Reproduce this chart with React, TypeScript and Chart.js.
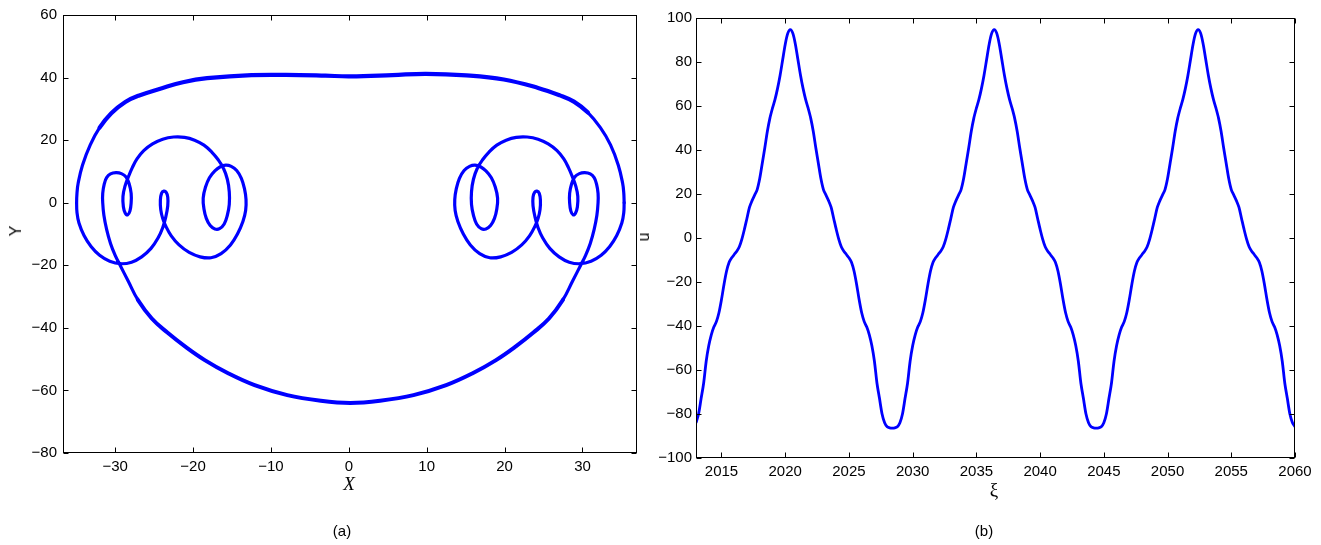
import React, { useEffect, useRef } from "react";
import { Chart, registerables } from "chart.js";

Chart.register(...registerables);

// ---------- Panel (a): phase portrait ----------
const PHASE_X_TICKS = [-30, -20, -10, 0, 10, 20, 30];
const PHASE_Y_TICKS = [-80, -60, -40, -20, 0, 20, 40, 60];

// top arc, from the right extreme over the top to the left extreme
const TOP_ARC: [number, number][] = [
  [35.35, 0], [35.3, 3.2], [35.15, 6.3], [34.6, 12.0], [33.6, 18.5], [32.3, 24.0], [30.7, 28.8],
  [28.9, 32.3], [27.1, 34.3], [24.3, 36.7], [19.9, 39.4], [15.1, 40.7], [9.9, 41.2],
  [5.6, 40.8], [0.2, 40.4], [-3.0, 40.6], [-6.3, 40.8], [-12.5, 40.8], [-18.2, 39.8],
  [-21.3, 38.5], [-24.0, 36.6], [-27.0, 34.2], [-28.7, 32.2], [-30.5, 28.6], [-32.0, 24.0],
  [-33.2, 18.5], [-34.2, 12.0], [-34.75, 6.3], [-34.9, 3.2], [-34.95, 0],
];

// loops on the left side
const LEFT_LOOPS: [number, number][] = [
  [-34.9, -3.2], [-34.65, -6.5], [-34.0, -10.5], [-33.1, -14.0], [-32.0, -16.8], [-30.7, -18.7], [-29.3, -19.5],
  [-27.9, -19.0], [-26.6, -17.3], [-25.4, -14.6], [-24.5, -11.3], [-23.9, -8.0], [-23.5, -4.5],
  [-23.25, -1.0], [-23.25, 1.8], [-23.45, 3.3], [-23.75, 3.7], [-24.05, 3.0], [-24.2, 0.8],
  [-24.15, -2.2], [-23.9, -5.0], [-23.5, -7.5], [-22.8, -10.6], [-21.8, -13.5], [-20.5, -15.9],
  [-19.1, -17.3], [-17.7, -17.6], [-16.4, -16.3], [-15.2, -13.5], [-14.3, -10.0], [-13.6, -6.0],
  [-13.25, -2.5], [-13.2, 1.0], [-13.4, 4.5], [-13.8, 7.8], [-14.4, 10.3], [-15.1, 11.6],
  [-15.8, 12.0], [-16.5, 11.5], [-17.2, 10.2], [-17.9, 8.0], [-18.4, 5.0], [-18.7, 1.5],
  [-18.6, -2.0], [-18.3, -5.0], [-17.8, -7.3], [-17.2, -8.4], [-16.6, -8.3], [-16.0, -6.8],
  [-15.6, -4.0], [-15.35, -0.5], [-15.35, 3.5], [-15.6, 7.5], [-16.1, 11.0], [-16.8, 13.8],
  [-17.6, 16.2], [-18.6, 18.4], [-19.8, 20.0], [-21.1, 20.9], [-22.5, 21.0], [-23.9, 20.3],
  [-25.2, 18.8], [-26.3, 16.7], [-27.2, 14.0], [-27.8, 11.2], [-28.3, 8.3], [-28.75, 5.2],
  [-29.0, 2.0], [-28.95, -1.3], [-28.7, -3.4], [-28.4, -3.9], [-28.1, -2.6], [-27.95, 0],
  [-27.95, 3.0], [-28.2, 6.0], [-28.6, 8.2], [-29.2, 9.3], [-29.9, 9.6], [-30.6, 9.2],
  [-31.1, 8.0], [-31.4, 6.0], [-31.6, 3.0], [-31.6, 0], [-31.45, -4.0], [-31.1, -8.5],
  [-30.6, -13.0], [-30.0, -16.8], [-29.4, -19.8],
];

// bottom arc, left to right
const BOTTOM_ARC: [number, number][] = [
  [-28.3, -25.2], [-27.1, -31.0], [-25.3, -37.0], [-23.3, -41.5], [-21.0, -46.0], [-18.5, -50.3],
  [-15.5, -54.5], [-12.1, -58.3], [-7.9, -61.5], [-3.6, -63.3], [0.2, -64.0], [4.0, -63.3],
  [8.3, -61.5], [12.5, -58.3], [15.9, -54.5], [18.9, -50.3], [21.4, -46.0], [23.7, -41.5],
  [25.7, -37.0], [27.5, -31.0], [28.7, -25.2],
];

// loops on the right side
const RIGHT_LOOPS: [number, number][] = [
  [29.8, -19.8], [30.4, -16.8], [31.0, -13.0], [31.5, -8.5], [31.85, -4.0], [32.0, 0],
  [32.0, 3.0], [31.8, 6.0], [31.5, 8.0], [31.0, 9.2], [30.3, 9.6], [29.6, 9.3],
  [29.0, 8.2], [28.6, 6.0], [28.35, 3.0], [28.35, 0], [28.5, -2.6], [28.8, -3.9],
  [29.1, -3.4], [29.35, -1.3], [29.4, 2.0], [29.15, 5.2], [28.7, 8.3], [28.2, 11.2],
  [27.6, 14.0], [26.7, 16.7], [25.6, 18.8], [24.3, 20.3], [22.9, 21.0], [21.5, 20.9],
  [20.2, 20.0], [19.0, 18.4], [18.0, 16.2], [17.2, 13.8], [16.5, 11.0], [16.0, 7.5],
  [15.75, 3.5], [15.75, -0.5], [16.0, -4.0], [16.4, -6.8], [17.0, -8.3], [17.6, -8.4],
  [18.2, -7.3], [18.7, -5.0], [19.0, -2.0], [19.1, 1.5], [18.8, 5.0], [18.3, 8.0],
  [17.6, 10.2], [16.9, 11.5], [16.2, 12.0], [15.5, 11.6], [14.8, 10.3], [14.2, 7.8],
  [13.8, 4.5], [13.6, 1.0], [13.65, -2.5], [14.0, -6.0], [14.7, -10.0], [15.6, -13.5],
  [16.8, -16.3], [18.1, -17.6], [19.5, -17.3], [20.9, -15.9], [22.2, -13.5], [23.2, -10.6],
  [23.9, -7.5], [24.3, -5.0], [24.55, -2.2], [24.6, 0.8], [24.45, 3.0], [24.15, 3.7],
  [23.85, 3.3], [23.65, 1.8], [23.65, -1.0], [23.9, -4.5], [24.3, -8.0], [24.9, -11.3],
  [25.8, -14.6], [27.0, -17.3], [28.3, -19.0], [29.7, -19.5], [31.1, -18.7], [32.4, -16.8],
  [33.5, -14.0], [34.4, -10.5], [35.05, -6.5], [35.3, -3.2],
];

// ---------- Panel (b): u(xi) ----------
const XI_TICKS = [2015, 2020, 2025, 2030, 2035, 2040, 2045, 2050, 2055, 2060];
const U_TICKS = [-100, -80, -60, -40, -20, 0, 20, 40, 60, 80, 100];
const XI_START = 2013;
const XI_STEP = 0.2;
const U_VALUES = [
  // 2013.0 - 2020.4
  -84.0, -80.0, -73.0, -66.0, -56.0, -49.0, -44.0, -40.5, -38.0, -34.0, -28.0, -21.0, -15.0, -11.0, -9.0, -7.5, -6.0, -4.0, -0.5,
  4.0, 9.0, 14.0, 17.0, 19.5, 22.0, 27.0, 34.0, 41.0, 48.5, 54.5, 59.0, 63.0, 68.0, 74.0, 81.0, 88.0, 93.0, 94.7,
  // 2020.6 - 2028.4
  93.0, 88.0, 81.0, 74.0, 68.0, 63.0, 59.0, 54.5, 48.5, 41.0, 34.0, 27.0, 22.0, 19.5, 17.0, 14.0, 9.0, 4.0, -0.5, -4.0,
  -6.0, -7.5, -9.0, -11.0, -15.0, -21.0, -28.0, -34.0, -38.0, -40.5, -44.0, -49.0, -56.0, -66.0, -73.0, -80.0, -84.0, -85.8, -86.3, -86.4,
  // 2028.6 - 2036.4
  -86.3, -85.8, -84.0, -80.0, -73.0, -66.0, -56.0, -49.0, -44.0, -40.5, -38.0, -34.0, -28.0, -21.0, -15.0, -11.0, -9.0, -7.5, -6.0, -4.0,
  -0.5, 4.0, 9.0, 14.0, 17.0, 19.5, 22.0, 27.0, 34.0, 41.0, 48.5, 54.5, 59.0, 63.0, 68.0, 74.0, 81.0, 88.0, 93.0, 94.7,
  // 2036.6 - 2044.4
  93.0, 88.0, 81.0, 74.0, 68.0, 63.0, 59.0, 54.5, 48.5, 41.0, 34.0, 27.0, 22.0, 19.5, 17.0, 14.0, 9.0, 4.0, -0.5, -4.0,
  -6.0, -7.5, -9.0, -11.0, -15.0, -21.0, -28.0, -34.0, -38.0, -40.5, -44.0, -49.0, -56.0, -66.0, -73.0, -80.0, -84.0, -85.8, -86.3, -86.4,
  // 2044.6 - 2052.4
  -86.3, -85.8, -84.0, -80.0, -73.0, -66.0, -56.0, -49.0, -44.0, -40.5, -38.0, -34.0, -28.0, -21.0, -15.0, -11.0, -9.0, -7.5, -6.0, -4.0,
  -0.5, 4.0, 9.0, 14.0, 17.0, 19.5, 22.0, 27.0, 34.0, 41.0, 48.5, 54.5, 59.0, 63.0, 68.0, 74.0, 81.0, 88.0, 93.0, 94.7,
  // 2052.6 - 2060.0
  93.0, 88.0, 81.0, 74.0, 68.0, 63.0, 59.0, 54.5, 48.5, 41.0, 34.0, 27.0, 22.0, 19.5, 17.0, 14.0, 9.0, 4.0, -0.5,
  -4.0, -6.0, -7.5, -9.0, -11.0, -15.0, -21.0, -28.0, -34.0, -38.0, -40.5, -44.0, -49.0, -56.0, -66.0, -73.0, -80.0, -84.0, -85.8,
];

const BLUE = "#0000ff";
const fmt = (v: number) => (v < 0 ? "\u2212" + Math.abs(v) : String(v));
const toPts = (arr: [number, number][]) => arr.map(([x, y]) => ({ x, y }));

const framePlugin = {
  id: "matlabFrame",
  afterDraw(chart: any) {
    const { ctx, chartArea: a, scales } = chart;
    const xs = scales.x;
    const ys = scales.y;
    const L = 5;
    const left = Math.round(a.left) + 0.5;
    const right = Math.round(a.right) - 0.5;
    const top = Math.round(a.top) + 0.5;
    const bottom = Math.round(a.bottom) - 0.5;
    ctx.save();
    ctx.strokeStyle = "#000";
    ctx.lineWidth = 1;
    ctx.beginPath();
    for (const t of xs.ticks) {
      const p = Math.round(xs.getPixelForValue(t.value)) + 0.5;
      ctx.moveTo(p, bottom);
      ctx.lineTo(p, bottom - L);
      ctx.moveTo(p, top);
      ctx.lineTo(p, top + L);
    }
    for (const t of ys.ticks) {
      const p = Math.round(ys.getPixelForValue(t.value)) + 0.5;
      ctx.moveTo(left, p);
      ctx.lineTo(left + L, p);
      ctx.moveTo(right, p);
      ctx.lineTo(right - L, p);
    }
    ctx.stroke();
    ctx.strokeRect(left, top, right - left, bottom - top);
    ctx.restore();
  },
};

function axis(min: number, max: number, ticks: number[], pad: number, fit: (s: any) => void) {
  return {
    type: "linear" as const,
    min,
    max,
    grid: { display: false, drawTicks: false },
    border: { display: false },
    ticks: {
      padding: pad,
      color: "#000",
      maxRotation: 0,
      autoSkip: false,
      callback: (v: any) => fmt(Number(v)),
    },
    afterBuildTicks: (s: any) => {
      s.ticks = ticks.map((v) => ({ value: v }));
    },
    afterFit: fit,
  };
}

const labelStyle = (
  left: number,
  top: number,
  size: number,
  extra: React.CSSProperties = {},
  rotate = false
): React.CSSProperties => ({
  position: "absolute",
  left,
  top,
  fontSize: size,
  lineHeight: 1,
  whiteSpace: "nowrap",
  color: "#000",
  fontFamily: '"Liberation Sans", Arial, sans-serif',
  transform: "translate(-50%, -50%)" + (rotate ? " rotate(-90deg)" : ""),
  ...extra,
});

export default function App() {
  const leftRef = useRef<HTMLCanvasElement>(null);
  const rightRef = useRef<HTMLCanvasElement>(null);

  useEffect(() => {
    Chart.defaults.font.family = '"Liberation Sans", Arial, sans-serif';
    Chart.defaults.font.size = 15;
    Chart.defaults.color = "#000";

    const path = [...TOP_ARC, ...LEFT_LOOPS, ...BOTTOM_ARC, ...RIGHT_LOOPS, TOP_ARC[0]];
    const topStart = 6;
    const topEnd = TOP_ARC.length - 6;
    const botStart = TOP_ARC.length + LEFT_LOOPS.length + 1;
    const botEnd = botStart + BOTTOM_ARC.length - 3;

    const left = new Chart(leftRef.current as HTMLCanvasElement, {
      type: "scatter",
      data: {
        datasets: [
          {
            data: toPts(path),
            showLine: true,
            borderColor: BLUE,
            borderWidth: 3.2,
            borderCapStyle: "round",
            borderJoinStyle: "round",
            pointRadius: 0,
            tension: 0.4,
            segment: {
              borderWidth: (c: any) => {
                const i = c.p0DataIndex;
                if (i >= topStart && i < topEnd) return 4.2;
                if (i >= botStart && i < botEnd) return 4.0;
                return 3.2;
              },
            },
          } as any,
        ],
      },
      options: {
        responsive: false,
        animation: false,
        events: [],
        layout: { padding: { left: 0, top: 15, right: 23, bottom: 0 } },
        plugins: { legend: { display: false }, tooltip: { enabled: false } },
        scales: {
          x: axis(-36.7, 37, PHASE_X_TICKS, 5, (s: any) => {
            s.height = 92;
          }),
          y: axis(-80, 60, PHASE_Y_TICKS, 6, (s: any) => {
            s.width = 63;
          }),
        } as any,
      },
      plugins: [framePlugin],
    });

    const uPts = U_VALUES.map((u, i) => ({ x: XI_START + i * XI_STEP, y: u }));
    const right = new Chart(rightRef.current as HTMLCanvasElement, {
      type: "scatter",
      data: {
        datasets: [
          {
            data: uPts,
            showLine: true,
            borderColor: BLUE,
            borderWidth: 2.8,
            pointRadius: 0,
            tension: 0.3,
          } as any,
        ],
      },
      options: {
        responsive: false,
        animation: false,
        events: [],
        layout: { padding: { left: 0, top: 18, right: 26, bottom: 0 } },
        plugins: { legend: { display: false }, tooltip: { enabled: false } },
        scales: {
          x: axis(2013, 2060, XI_TICKS, 5, (s: any) => {
            s.height = 87;
          }),
          y: axis(-100, 100, U_TICKS, 4, (s: any) => {
            s.width = 56;
          }),
        } as any,
      },
      plugins: [framePlugin],
    });

    return () => {
      left.destroy();
      right.destroy();
    };
  }, []);

  return (
    <div
      style={{
        position: "absolute",
        left: 0,
        top: 0,
        width: 1321,
        height: 545,
        background: "#fff",
        overflow: "hidden",
      }}
    >
      <canvas
        ref={leftRef}
        width={660}
        height={545}
        style={{ position: "absolute", left: 0, top: 0, width: 660, height: 545 }}
      />
      <canvas
        ref={rightRef}
        width={681}
        height={545}
        style={{ position: "absolute", left: 640, top: 0, width: 681, height: 545 }}
      />
      <div style={labelStyle(16, 231, 16, {}, true)}>Y</div>
      <div style={labelStyle(644, 237, 16, {}, true)}>u</div>
      <div
        style={labelStyle(349, 483, 19, {
          fontFamily: '"Liberation Serif", "Times New Roman", serif',
          fontStyle: "italic",
        })}
      >
        X
      </div>
      <div
        style={labelStyle(994, 489, 19, {
          fontFamily: '"Liberation Serif", "Times New Roman", serif',
        })}
      >
        ξ
      </div>
      <div style={labelStyle(342, 530, 15)}>(a)</div>
      <div style={labelStyle(984, 530, 15)}>(b)</div>
    </div>
  );
}
